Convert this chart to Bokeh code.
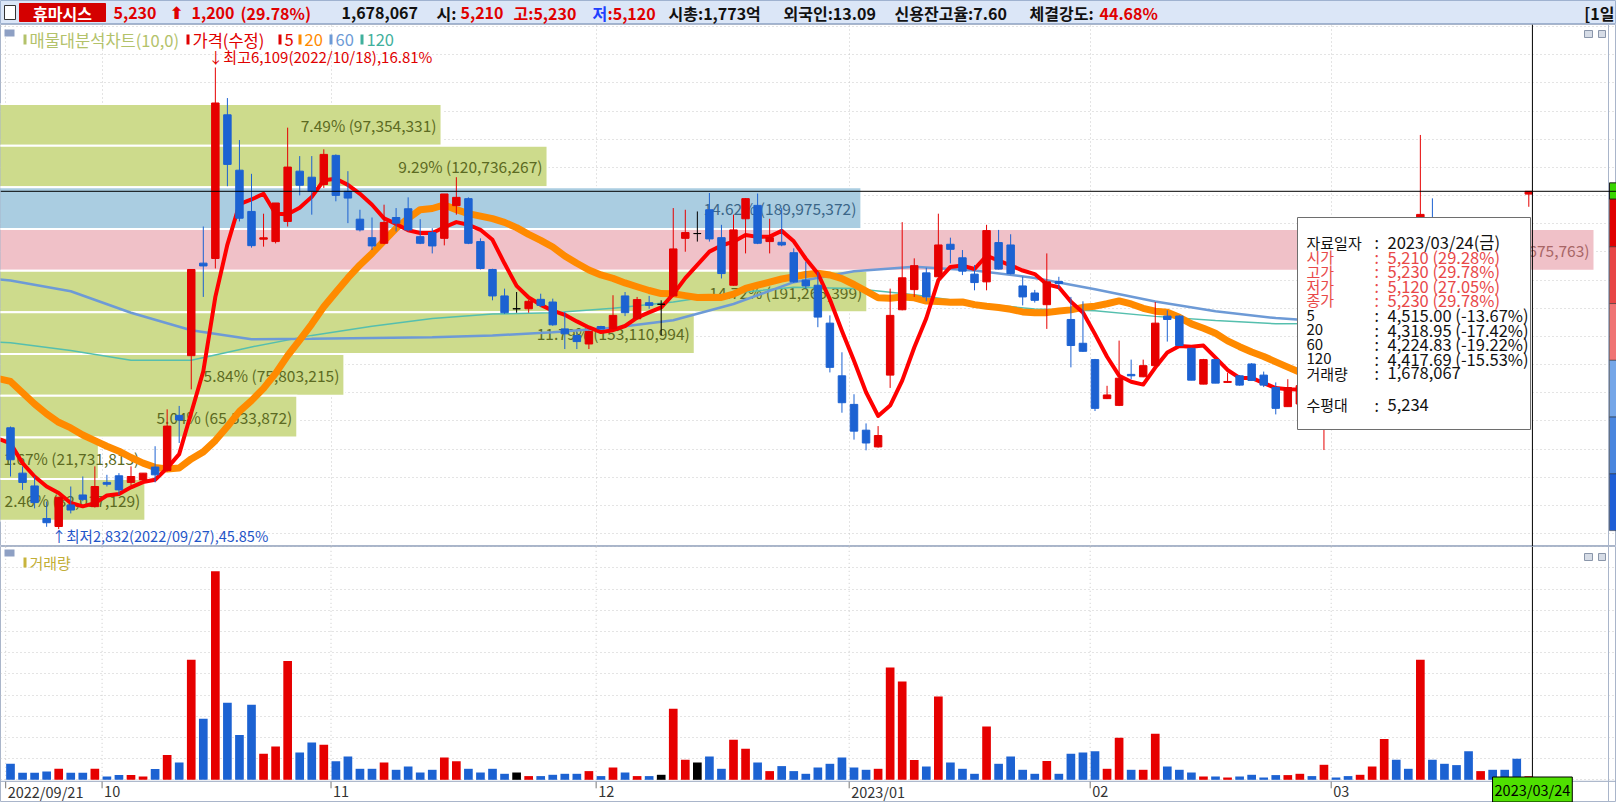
import numpy as np
import pandas as pd
from bokeh.plotting import figure
from bokeh.models import (Range1d, Span, Label, BoxAnnotation, FixedTicker,
                          SingleIntervalTicker, Grid)
from bokeh.layouts import column
from bokeh.embed import file_html
from bokeh.resources import INLINE
from bokeh.core.properties import value

FONT = "Noto Sans CJK KR"

# ---------------- data ----------------
stock_name = "휴마시스"
holidays = ["2022-10-03", "2022-10-10", "2022-12-30", "2023-01-23", "2023-01-24", "2023-03-01"]
start_date, end_date = "2022-09-21", "2023-03-24"

opens = [3551,3229,3138,2907,2850,3003,3074,2991,3163,3210,
         3163,3181,3272,3248,3639,4063,4720,4753,5773,5380,
         5087,4890,4873,5016,5373,5330,5278,5485,5230,5032,
         4901,4861,5044,5106,4908,4937,4896,5128,5178,4873,
         4675,4487,4396,4396,4463,4444,4253,4206,4146,4270,
         4253,4487,4325,4439,4428,4487,4896,4930,5099,4901,
         4563,5035,5130,4873,4868,4794,4599,4563,4294,3920,
         3717,3534,3415,3925,4389,4532,4651,4623,4854,4758,
         4642,4587,4866,4849,4558,4508,4425,4590,4320,4151,
         4035,3758,3710,3930,3913,3992,4344,4344,4115,3861,
         4035,3873,3920,4004,3925,3837,3701,3720,3850,3560,
         3720,3690,3650,3700,3950,4600,4520,4460,5000,4900,
         4760,4700,4420,4460,4440,4420,5210]
highs = [3560,3277,3205,3027,3060,3134,3205,3277,3217,3229,
         3277,3229,3420,3682,3706,4675,4980,6109,5892,5594,
         5354,5071,5147,5682,5480,5480,5528,5492,5373,5099,
         5044,5135,5111,5187,5032,4968,5211,5330,5187,4896,
         4680,4539,4515,4460,4503,4468,4373,4230,4240,4275,
         4492,4515,4480,4487,4456,5111,5099,5087,5218,4992,
         5064,5182,5214,5035,5111,4825,4730,4658,4349,4087,
         3789,3582,3563,4539,5011,4754,4687,5071,4901,4813,
         4706,4992,4956,4925,4623,4530,4789,4623,4480,4449,
         4040,3849,4170,4035,4035,4444,4385,4350,4120,4040,
         4040,3942,3925,4010,3950,3873,3896,3880,3870,3720,
         3740,3720,3730,3980,4600,4680,4560,5630,5180,4950,
         4800,4730,4500,4490,4470,4430,5230]
lows = [3205,3110,2979,2848,2832,2943,3030,2985,3134,3074,
        3140,3175,3163,3240,3443,3824,4480,4682,5266,5016,
        4830,4837,4860,4980,5201,5064,5254,5159,5004,4945,
        4813,4855,4945,4945,4855,4789,4846,5064,4855,4675,
        4456,4360,4368,4368,4408,4275,4110,4110,4110,4250,
        4250,4344,4320,4396,4206,4480,4801,4873,4873,4611,
        4560,4789,4855,4789,4840,4580,4539,4265,3944,3658,
        3467,3391,3410,3834,4385,4480,4449,4620,4718,4635,
        4527,4527,4675,4640,4420,4440,4253,4539,3980,4090,
        3670,3755,3705,3896,3910,3990,4163,4135,3889,3860,
        3868,3870,3850,3887,3840,3646,3700,3710,3700,3393,
        3650,3630,3640,3690,3940,4480,4420,4440,4850,4720,
        4680,4580,4400,4400,4390,4010,5120]
closes = [3324,3163,3020,2877,3058,2967,3043,3134,3150,3110,
          3205,3229,3217,3563,3606,4675,4700,5857,5421,5039,
          4844,4900,5147,5402,5273,5230,5492,5201,5182,4956,
          4842,5009,5004,4956,4861,4842,5211,5187,4861,4682,
          4487,4368,4396,4449,4420,4282,4218,4163,4235,4253,
          4349,4368,4461,4420,4428,4821,4937,4930,4892,4646,
          4956,5178,4861,4901,4849,4587,4558,4337,3980,3729,
          3527,3443,3496,4349,4616,4702,4480,4849,4818,4663,
          4582,4951,4678,4646,4480,4456,4587,4575,4135,4094,
          3689,3784,3903,3920,3992,4294,4320,4135,3889,4035,
          3868,3880,3854,3887,3854,3689,3837,3850,3750,3700,
          3680,3650,3700,3950,4550,4500,4450,5066,4900,4750,
          4700,4608,4470,4430,4415,4030,5230]
volumes = [7550000,3300000,3300000,3920000,5190000,3300000,3300000,5190000,1560000,2220000,
           2220000,1560000,5050000,11650000,8160000,56600000,28800000,98400000,36300000,21100000,
           35400000,12300000,15700000,56000000,12900000,17600000,16500000,8800000,11000000,5190000,
           5190000,8160000,4720000,6270000,3440000,4720000,10500000,8800000,5190000,3440000,
           5190000,2830000,3440000,1750000,1750000,2360000,2830000,2830000,4100000,1750000,
           5800000,3440000,1750000,1750000,2360000,33500000,9430000,8160000,11000000,5190000,
           18900000,14600000,8160000,4100000,6460000,4100000,2830000,5800000,7550000,10500000,
           5800000,4720000,5190000,53000000,46400000,9290000,6270000,39300000,8160000,5190000,
           2830000,25100000,7550000,11000000,4720000,2830000,8820000,2830000,12300000,12900000,
           13500000,5190000,19800000,4720000,4720000,21700000,6270000,4720000,3440000,1560000,
           1560000,1080000,1560000,2360000,1080000,2220000,2220000,2830000,1750000,7080000,
           1080000,1750000,2360000,6270000,19300000,9430000,5190000,56600000,9430000,7550000,
           6930000,13500000,4100000,4720000,4720000,9910000,1678067]

# moving-average values where the chart has no history of its own;
# "prior" = value of the trading day just before the first candle (line runs in from the left edge)
ma5_prior, ma20_prior, ma60_prior, ma120_prior = 3472, 3900, 4604, 4159
ma5_head = [3440, 3300, 3205, 3134]
ma20_head = [3880, 3800, 3720, 3650, 3590, 3550, 3500, 3460, 3420, 3385,
             3340, 3300, 3270, 3258, 3265, 3330, 3380, 3460, 3560]
ma_long_idx = [0, 5, 10, 15, 20, 25, 30, 35, 40, 45, 50, 55, 60, 65, 70, 75,
               80, 85, 90, 95, 100, 105, 110, 115, 120, 126]
ma60_vals = [4597, 4520, 4368, 4243, 4180, 4184, 4189, 4193, 4206, 4230, 4262, 4315, 4430,
             4585, 4662, 4695, 4668, 4615, 4535, 4447, 4378, 4330, 4300, 4275, 4250, 4224.83]
ma120_vals = [4155, 4100, 4030, 4030, 4125, 4207, 4272, 4327, 4358, 4368, 4400, 4444, 4508,
              4548, 4540, 4495, 4435, 4395, 4382, 4342, 4312, 4290, 4292, 4330, 4375, 4417.69]

# volume profile (매물대) bands, top to bottom
band_top_price, band_bottom_price = 5850, 2891
band_pct = [7.49, 9.29, 14.62, 27.07, 14.72, 11.79, 5.84, 5.04, 1.67, 2.46]
band_vol = [97354331, 120736267, 189975372, 351675763, 191265399,
            153110994, 75803215, 65533872, 21731813, 32017129]

market_cap = "1,773억"
foreign_ratio = "13.09"
credit_ratio = "7.60"
trade_strength = "44.68%"
level_price = 5234

# ---------------- derived ----------------
n = len(closes)
dates = [d for d in pd.bdate_range(start_date, end_date) if d.strftime("%Y-%m-%d") not in holidays]
assert len(dates) == n
xs = np.arange(n)
o = np.array(opens, float); h = np.array(highs, float)
l = np.array(lows, float); c = np.array(closes, float)
vol = np.array(volumes, float)

ma5 = pd.Series(c).rolling(5).mean().to_numpy(); ma5[:4] = ma5_head
ma20 = pd.Series(c).rolling(20).mean().to_numpy(); ma20[:19] = ma20_head

UP, DOWN, FLAT = "#e60000", "#1c62d2", "#000000"
ccol = [UP if cc > oo else (DOWN if cc < oo else FLAT) for oo, cc in zip(opens, closes)]

month_first = [0] + [i for i in range(1, n) if dates[i].month != dates[i - 1].month]
month_ticks = [i - 0.4 for i in month_first]
month_labels = [dates[0].strftime("%Y/%m/%d")] + [
    dates[i].strftime("%Y/%m") if dates[i].month == 1 else dates[i].strftime("%m") for i in month_first[1:]]

last = n - 1
prev = closes[-2]
cur = closes[-1]

W = 1616
PXI = 12.05                       # pixels per candle
XR = Range1d(-10 / PXI, (W - 10) / PXI)
PB = 546                          # page y of price frame bottom
VB = 802                          # page y of volume frame bottom
RED_T = "#e84848"


def sl(fig, sx, sy, text, color, size="15px", font=FONT, align="left", style="normal", **kw):
    fig.add_layout(Label(x=sx, y=sy, x_units="screen", y_units="screen", text=text,
                         text_color=color, text_font=font, text_font_size=size,
                         text_align=align, text_baseline="middle", text_font_style=style, **kw))


def sbox(fig, left, right, bottom, top, fill, line=None):
    fig.add_layout(BoxAnnotation(left=left, right=right, bottom=bottom, top=top,
                                 left_units="screen", right_units="screen",
                                 bottom_units="screen", top_units="screen",
                                 fill_color=fill, fill_alpha=1.0,
                                 line_color=line if line else "white",
                                 line_alpha=1.0 if line else 0.0, line_width=1))


def clear_grids(fig):
    for g in list(fig.renderers) + list(fig.center):
        if isinstance(g, Grid):
            g.visible = False


# ---------------- header ----------------
hd = figure(width=W, height=24, x_range=Range1d(0, W), y_range=Range1d(24, 0),
            x_axis_location=None, y_axis_location=None, toolbar_location=None,
            min_border=0, output_backend="svg")
hd.background_fill_color = "#dbe6f7"
hd.border_fill_color = "#dbe6f7"
hd.outline_line_color = "#9fb2d0"
clear_grids(hd)
hd.add_layout(BoxAnnotation(left=4, right=15, top=5, bottom=19, fill_color="white", fill_alpha=1,
                            line_color="#333333", line_alpha=1, line_width=1, level="underlay"))
hd.add_layout(BoxAnnotation(left=19, right=105, top=3, bottom=21, fill_color="#d40000", fill_alpha=1,
                            line_color="#d40000", line_alpha=1, level="underlay"))
chg = cur - prev
pct = chg / prev * 100
hsegs = [
    (62, stock_name, "white", "center"),
    (113, f"{cur:,}", "#e00000", "left"),
    (191, f"{chg:,}", "#e00000", "left"),
    (240, f"({pct:.2f}%)", "#e00000", "left"),
    (341, f"{volumes[-1]:,}", "#111111", "left"),
    (436, "시:", "#111111", "left"),
    (460, f"{opens[-1]:,}", "#e00000", "left"),
    (513, f"고:{highs[-1]:,}", "#e00000", "left"),
    (592, "저", "#2040ff", "left"),
    (607, f":{lows[-1]:,}", "#e00000", "left"),
    (668, f"시총:{market_cap}", "#111111", "left"),
    (783, f"외국인:{foreign_ratio}", "#111111", "left"),
    (894, f"신용잔고율:{credit_ratio}", "#111111", "left"),
    (1029, "체결강도:", "#111111", "left"),
    (1099, trade_strength, "#e00000", "left"),
    (1614, "[1일", "#111111", "right"),
]
for hx, ht, hc, ha in hsegs:
    hd.text(x=[hx], y=[12.5], text=[ht], text_color=hc, text_align=ha, text_baseline="middle",
            text_font=value(FONT), text_font_size="16px", text_font_style="bold")
hd.text(x=[169], y=[12.5], text=["⬆"], text_color="#e00000", text_baseline="middle",
        text_font=value("DejaVu Sans"), text_font_size="17px", text_font_style="bold")

# ---------------- price panel ----------------
p = figure(width=W, height=PB - 24, x_range=XR,
           y_range=Range1d(6109 - (PB - 67) * 7.1, 6109 + (67 - 24) * 7.1),
           x_axis_location=None, y_axis_location=None, toolbar_location=None,
           min_border=0, output_backend="svg")
p.outline_line_color = "#a9b5ca"
p.background_fill_color = "white"
p.border_fill_color = "white"
clear_grids(p)
p.add_layout(Grid(dimension=1, ticker=SingleIntervalTicker(interval=200),
                  grid_line_color="#c9c9c9", grid_line_dash="1 3"))
p.add_layout(Grid(dimension=0, ticker=FixedTicker(ticks=month_ticks),
                  grid_line_color="#c9c9c9", grid_line_dash="1 3"))

# volume profile bands
edges = np.linspace(band_top_price, band_bottom_price, len(band_pct) + 1)
btop, bbot = edges[:-1], edges[1:]
imax = int(np.argmax(band_vol))
icur = [i for i in range(len(band_pct)) if bbot[i] <= cur < btop[i]][0]
BAND_ORIGIN, BAND_MAXLEN = XR.start, 1594 / PXI
bright = BAND_ORIGIN + np.array(band_pct) / max(band_pct) * BAND_MAXLEN
bfill, btxt = [], []
for i in range(len(band_pct)):
    if i == imax:
        bfill.append("#f0c1c8"); btxt.append("#a86666")
    elif i == icur:
        bfill.append("#aacde1"); btxt.append("#3b6688")
    else:
        bfill.append("#cddb8c"); btxt.append("#5c6a22")
p.quad(left=BAND_ORIGIN - 1, right=list(bright), top=list(btop), bottom=list(bbot),
       fill_color=bfill, line_color="white", line_width=2)
blabels = [f"{pc:.2f}% ({bv:,})" for pc, bv in zip(band_pct, band_vol)]
bmid = (btop + bbot) / 2
bw_px = (bright - BAND_ORIGIN) * PXI
ri = [i for i in range(len(band_pct)) if bw_px[i] >= 140]
li = [i for i in range(len(band_pct)) if bw_px[i] < 140]
p.text(x=[bright[i] for i in ri], y=[bmid[i] for i in ri], text=[blabels[i] for i in ri],
       text_color=[btxt[i] for i in ri], text_align="right", text_baseline="middle", x_offset=-5,
       text_font=value(FONT), text_font_size="15.5px")
if li:
    p.text(x=[XR.start] * len(li), y=[bmid[i] for i in li], text=[blabels[i] for i in li],
           text_color=[btxt[i] for i in li], text_align="left", text_baseline="middle", x_offset=3,
           text_font=value(FONT), text_font_size="15.5px")

# moving averages (each line runs in from the prior day at the left edge)
xl = [-1] + list(xs)
p.line([-1] + ma_long_idx, [ma120_prior] + ma120_vals, line_color="#55bfae", line_width=1.5)
p.line([-1] + ma_long_idx, [ma60_prior] + ma60_vals, line_color="#6d9ad6", line_width=2.5)
p.line(xl, [ma20_prior] + list(ma20), line_color="#ff8a00", line_width=7, line_join="round")
p.line(xl, [ma5_prior] + list(ma5), line_color="#ff0000", line_width=4, line_join="round")

# candles
p.segment(x0=xs, y0=h, x1=xs, y1=l, line_color=ccol, line_width=1)
p.vbar(x=xs, top=np.maximum(o, c), bottom=np.minimum(o, c), width=0.62,
       fill_color=ccol, line_color=ccol, line_width=1)

# price-limit strip (price axis column) at the right edge
strip_l = (1609 - 10) / PXI
lv = [prev * (1 + k / 10) for k in (3, 2, 1, 0, -1, -2, -3)]
strip_cols = ["#e00000", "#e84545", "#f07474", "#75a6e8", "#4a86de", "#1f5fd6"]
p.quad(left=strip_l, right=XR.end + 1, top=lv[:-1], bottom=lv[1:], fill_color=strip_cols,
       line_color="#222222", line_width=0.5)
p.quad(left=strip_l, right=XR.end + 1, top=cur + 60, bottom=cur - 55, fill_color="#39d400",
       line_color="#222222", line_width=1)
p.add_layout(Span(location=(1608 - 10) / PXI, dimension="height", line_color="#a9b5ca", line_width=1))

# high / low annotations
hi = int(np.argmax(h)); lo = int(np.argmin(l))
p.text(x=[hi], y=[h[hi]],
       text=[f"↓최고{highs[hi]:,}({dates[hi].strftime('%Y/%m/%d')}),{abs(cur - highs[hi]) / cur * 100:.2f}%"],
       text_color="#e00000", text_baseline="middle", x_offset=-7, y_offset=-11,
       text_font=value(FONT), text_font_size="15px")
p.text(x=[lo], y=[l[lo]],
       text=[f"↑최저{lows[lo]:,}({dates[lo].strftime('%Y/%m/%d')}),{abs(cur - lows[lo]) / cur * 100:.2f}%"],
       text_color="#1f55c8", text_baseline="middle", x_offset=-7, y_offset=6,
       text_font=value(FONT), text_font_size="14.5px")

# current price line and crosshair
p.add_layout(Span(location=cur, dimension="width", line_color="black", line_width=1))
cross_x = last + 0.3
p.add_layout(Span(location=cross_x, dimension="height", line_color="black", line_width=1))

# legend row
sbox(p, 4, 14, PB - 36, PB - 29, "#8ea0c4")
leg = [(23, "매물대분석차트(10,0)", "#b3c26a"), (186, "가격(수정)", "#e00000"), (278, "5", "#e00000"),
       (298, "20", "#ff8a00"), (329, "60", "#6d9ad6"), (360, "120", "#3fb09c")]
for lx, lt, lc in leg:
    sbox(p, lx, lx + 3, PB - 44, PB - 34, lc)
    sl(p, lx + 6, PB - 39, lt, lc, size="16.5px")
sbox(p, 1584, 1592, PB - 37, PB - 30, "#d6dce6", "#8a96aa")
sbox(p, 1598, 1605, PB - 37, PB - 30, "#d6dce6", "#8a96aa")

# tooltip box
sbox(p, 1297, 1530, PB - 429, PB - 217, "white", "#6e6e6e")
wd = ["월", "화", "수", "목", "금", "토", "일"][dates[-1].weekday()]
rel = lambda v, base: (v / base - 1) * 100
rows = [
    ("자료일자", f"{dates[-1].strftime('%Y/%m/%d')}({wd})", "#111111", 241.7),
    ("시가", f"{opens[-1]:,} ({rel(opens[-1], prev):.2f}%)", RED_T, 256.0),
    ("고가", f"{highs[-1]:,} ({rel(highs[-1], prev):.2f}%)", RED_T, 270.5),
    ("저가", f"{lows[-1]:,} ({rel(lows[-1], prev):.2f}%)", RED_T, 285.0),
    ("종가", f"{closes[-1]:,} ({rel(closes[-1], prev):.2f}%)", RED_T, 299.0),
    ("5", f"{ma5[-1]:,.2f} ({rel(ma5[-1], cur):.2f}%)", "#111111", 314.5),
    ("20", f"{ma20[-1]:,.2f} ({rel(ma20[-1], cur):.2f}%)", "#111111", 329.0),
    ("60", f"{ma60_vals[-1]:,.2f} ({rel(ma60_vals[-1], cur):.2f}%)", "#111111", 343.5),
    ("120", f"{ma120_vals[-1]:,.2f} ({rel(ma120_vals[-1], cur):.2f}%)", "#111111", 358.0),
    ("거래량", f"{volumes[-1]:,}", "#111111", 372.5),
    ("수평대", f"{level_price:,}", "#111111", 404.0),
]
for lab, val, col, yy in rows:
    sl(p, 1306, PB - yy, lab, col, size="15px")
    sl(p, 1374, PB - yy, ":", col, size="16px")
    sl(p, 1387, PB - yy, val, col, size="16.5px")

# ---------------- volume panel (date scale drawn inside the lower band) ----------------
VPX = 2.12e-6                     # pixels per share
V0 = 779.3                        # page y of the zero line
pv = figure(width=W, height=VB - PB, x_range=XR,
            y_range=Range1d(-(VB - V0) / VPX, (V0 - PB) / VPX),
            x_axis_location=None, y_axis_location=None, toolbar_location=None,
            min_border=0, output_backend="svg")
pv.outline_line_color = "#a9b5ca"
pv.background_fill_color = "white"
pv.border_fill_color = "white"
clear_grids(pv)
pv.add_layout(Grid(dimension=1, ticker=SingleIntervalTicker(interval=10_000_000),
                   grid_line_color="#c9c9c9", grid_line_dash="1 3", bounds=(0, 1e10)))
vtop = (V0 - PB) / VPX
pv.segment(x0=month_ticks, y0=[0] * len(month_ticks), x1=month_ticks, y1=[vtop] * len(month_ticks),
           line_color="#c9c9c9", line_dash="1 3", line_width=1)

pv.vbar(x=xs, top=vol, bottom=0, width=0.72, fill_color=ccol, line_color=None)

# date axis line, ticks and labels
axis_y = -1.5 / VPX
pv.add_layout(Span(location=axis_y, dimension="width", line_color="#9aa8c0", line_width=1))
pv.segment(x0=month_ticks, y0=[axis_y] * len(month_ticks), x1=month_ticks,
           y1=[axis_y - 7 / VPX] * len(month_ticks), line_color="#777777", line_width=1)
pv.text(x=month_ticks, y=[-(790.5 - V0) / VPX] * len(month_ticks), text=month_labels,
        text_color="#333333", text_align="left", text_baseline="middle", x_offset=2,
        text_font=value(FONT), text_font_size="14.5px")
pv.add_layout(Span(location=(1608 - 10) / PXI, dimension="height", line_color="#a9b5ca", line_width=1))
pv.add_layout(Span(location=cross_x, dimension="height", line_color="black", line_width=1))
pv.add_layout(Label(x=cross_x, y=-(789 - V0) / VPX, x_units="data", y_units="data",
                    text=dates[-1].strftime("%Y/%m/%d"), text_align="center", text_baseline="middle",
                    text_color="#000000", text_font=FONT, text_font_size="14.5px",
                    background_fill_color="#4fe000", background_fill_alpha=1.0,
                    border_line_color="black", border_line_alpha=1.0, padding=2))

VS = VB  # screen-y reference for volume frame
sbox(pv, 4, 14, VS - 556, VS - 549, "#8ea0c4")
sbox(pv, 23, 26, VS - 567, VS - 557, "#c8b43c")
sl(pv, 29, VS - 562, "거래량", "#c2ae36")
sbox(pv, 1584, 1592, VS - 560, VS - 553, "#d6dce6", "#8a96aa")
sbox(pv, 1598, 1605, VS - 560, VS - 553, "#d6dce6", "#8a96aa")

layout = column(hd, p, pv)
open("out.html", "w").write(file_html(layout, INLINE))
